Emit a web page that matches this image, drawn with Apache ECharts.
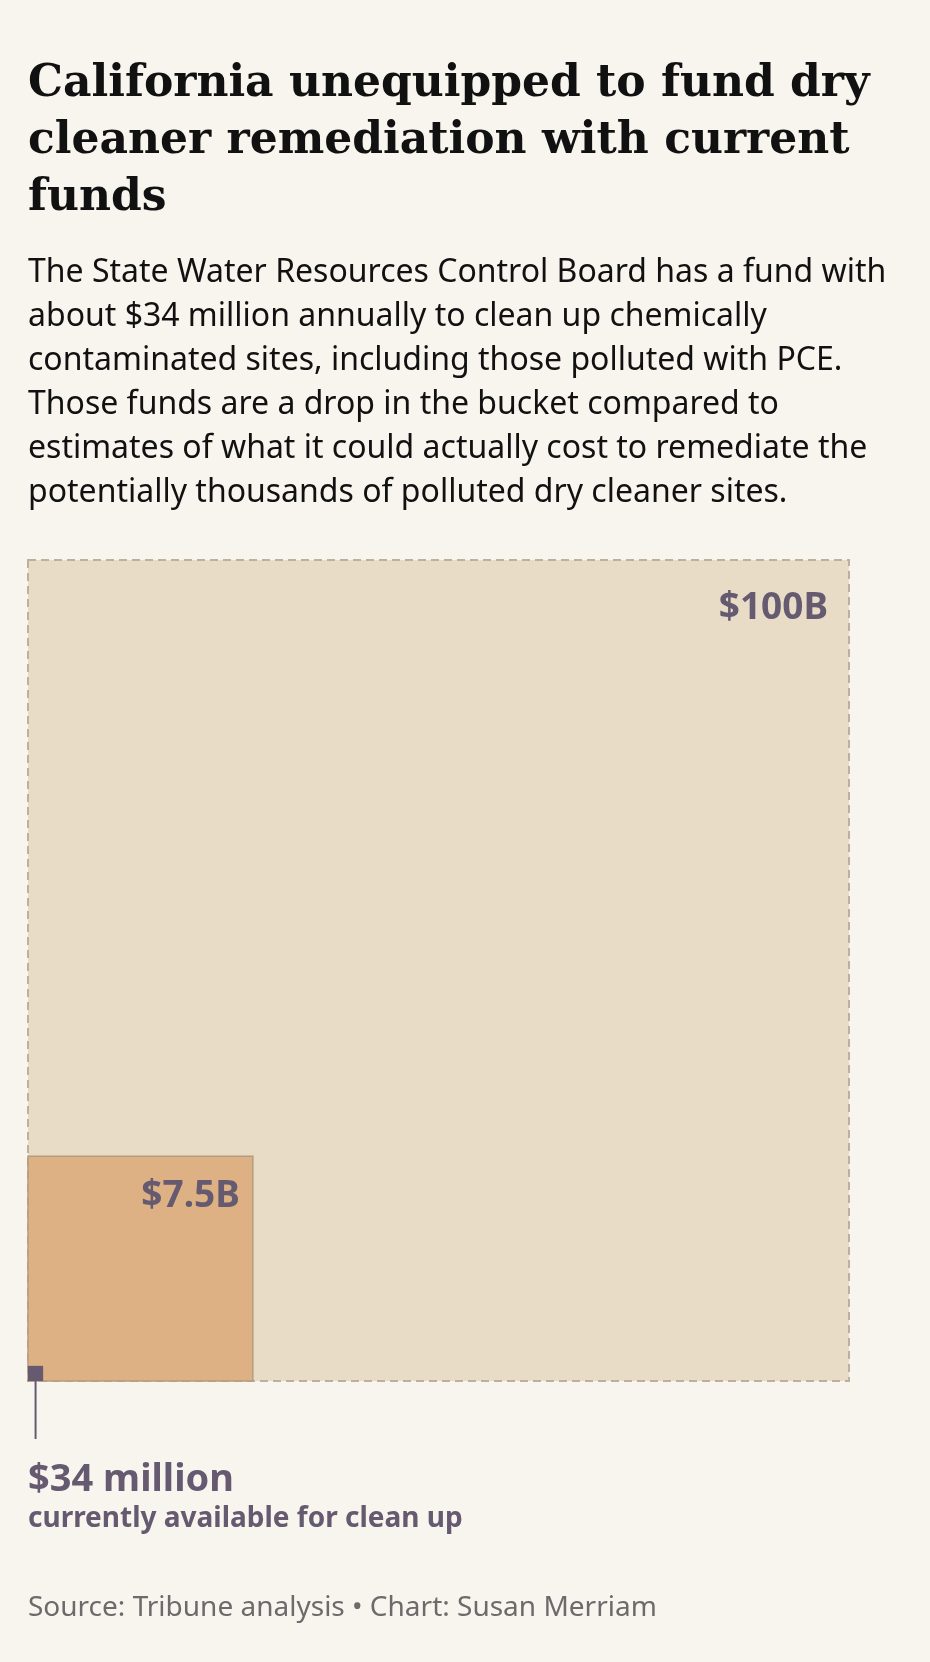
<!DOCTYPE html>
<html><head><meta charset="utf-8">
<script src="https://cdn.jsdelivr.net/npm/echarts@6/dist/echarts.min.js"></script>
<style>html,body{margin:0;padding:0;background:#f8f4ee}#c{width:930px;height:1662px}</style>
</head><body><div id="c"></div>
<script>
// ---- data ----
const categories = ['Estimated remediation cost (high)', 'Estimated remediation cost (low)', 'Currently available'];
const valuesBillions = [100, 7.5, 0.034];
const valueLabels = ['$100B', '$7.5B', '$34 million'];
const noteLabels = ['', '', 'currently available for clean up'];
const titleText = 'California unequipped to fund dry\ncleaner remediation with current\nfunds';
const subtitleText = 'The State Water Resources Control Board has a fund with\nabout $34 million annually to clean up chemically\ncontaminated sites, including those polluted with PCE.\nThose funds are a drop in the bucket compared to\nestimates of what it could actually cost to remediate the\npotentially thousands of polluted dry cleaner sites.';
const sourceText = 'Source: Tribune analysis \u2022 Chart: Susan Merriam';

// ---- styles ----
const LABEL_COLOR = '#655a70';
const boxStyles = [
  {fill: '#e9dcc6', stroke: '#bdb09f', lineWidth: 2, lineDash: [8, 5]},
  {fill: '#ddb183', stroke: '#b39c7f', lineWidth: 1.5},
  {fill: '#655a70', stroke: null, lineWidth: 0}
];
const labelInset = [[21, 48], [13, 40]];

const maxSide = Math.sqrt(Math.max(...valuesBillions));
const chart = echarts.init(document.getElementById('c'), null, {renderer: 'canvas'});

function renderItem(params, api) {
  const i = params.dataIndex;
  const side = Math.sqrt(api.value(1));
  const p0 = api.coord([0, 0]);
  const p1 = api.coord([side, side]);
  const x = p0[0], y = p1[1], w = p1[0] - p0[0], h = p0[1] - p1[1];
  const st = boxStyles[i];
  const children = [{
    type: 'rect',
    shape: {x: x, y: y, width: w, height: h},
    style: {fill: st.fill, stroke: st.stroke, lineWidth: st.lineWidth, lineDash: st.lineDash || null}
  }];
  if (i < 2) {
    children.push({
      type: 'text',
      style: {
        text: valueLabels[i], x: x + w - labelInset[i][0], y: y + labelInset[i][1],
        align: 'right', verticalAlign: 'middle',
        font: 'bold 37px "Noto Sans"', fill: LABEL_COLOR
      }
    });
  } else {
    const cx = x + w / 2;
    children.push({
      type: 'line',
      shape: {x1: cx, y1: p0[1], x2: cx, y2: p0[1] + 58},
      style: {stroke: LABEL_COLOR, lineWidth: 2}
    });
    children.push({
      type: 'text',
      style: {text: valueLabels[i], x: x, y: p0[1] + 99, align: 'left', verticalAlign: 'middle',
        font: 'bold 38px "Noto Sans"', fill: LABEL_COLOR}
    });
    children.push({
      type: 'text',
      style: {text: noteLabels[i], x: x, y: p0[1] + 138, align: 'left', verticalAlign: 'middle',
        font: 'bold 28px "Noto Sans"', fill: LABEL_COLOR}
    });
  }
  return {type: 'group', children: children};
}

chart.setOption({
  backgroundColor: '#f8f4ee',
  animation: false,
  title: [
    {text: titleText, left: 28, top: 56, padding: 0,
     textStyle: {fontFamily: 'DejaVu Serif', fontWeight: 'bold', fontSize: 44, lineHeight: 57, color: '#111111'}},
    {text: subtitleText, left: 28, top: 251, padding: 0,
     textStyle: {fontFamily: 'Noto Sans', fontWeight: 'normal', fontSize: 32, lineHeight: 44, color: '#111111'}},
    {text: sourceText, left: 28, top: 1593, padding: 0,
     textStyle: {fontFamily: 'Noto Sans', fontWeight: 'normal', fontSize: 28, lineHeight: 30, color: '#6b6b6b'}}
  ],
  grid: {left: 28, top: 560, width: 821, height: 821},
  xAxis: {type: 'value', min: 0, max: maxSide, show: false},
  yAxis: {type: 'value', min: 0, max: maxSide, show: false},
  series: [{
    type: 'custom',
    renderItem: renderItem,
    data: categories.map((c, i) => ({name: c, value: [i, valuesBillions[i]]})),
    encode: {x: -1, y: -1},
    clip: false
  }]
});
</script>
</body></html>
